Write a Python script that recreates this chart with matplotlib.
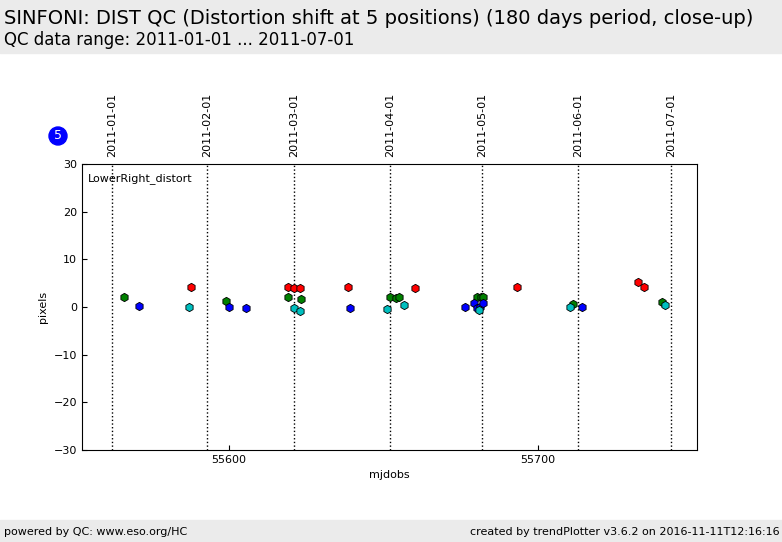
import matplotlib
matplotlib.use("Agg")
import matplotlib.pyplot as plt
from matplotlib.patches import Rectangle

red_x = [55587.7, 55619.1, 55621.0, 55623.0, 55638.5, 55660.2, 55693.2, 55732.4, 55734.3]
red_y = [4.2, 4.2, 4.0, 4.0, 4.2, 4.0, 4.2, 5.2, 4.2]
green_x = [55566.0, 55599.0, 55619.1, 55623.3, 55652.1, 55654.0, 55655.0, 55680.3, 55681.6, 55682.2, 55711.3, 55740.1]
green_y = [2.2, 1.2, 2.0, 1.6, 2.2, 1.8, 2.0, 2.2, 2.0, 2.2, 0.7, 1.1]
blue_x = [55570.9, 55600.0, 55605.5, 55639.2, 55676.4, 55679.3, 55680.3, 55681.2, 55682.2, 55714.2]
blue_y = [0.2, -0.1, -0.3, -0.3, 0.1, 0.9, -0.3, 0.0, 0.9, -0.1]
cyan_x = [55587.1, 55621.0, 55623.0, 55651.1, 55656.6, 55680.9, 55710.4, 55741.1]
cyan_y = [0.1, -0.2, -0.9, -0.5, 0.4, -0.7, -0.1, 0.4]
month_mjd = [55562, 55593, 55621, 55652, 55682, 55713, 55743]
month_lbl = ["2011-01-01", "2011-02-01", "2011-03-01", "2011-04-01", "2011-05-01", "2011-06-01", "2011-07-01"]

fig = plt.figure(figsize=(7.82, 5.42), dpi=100, facecolor="white")
fig.patches.append(Rectangle((0, 489/542), 1, 53/542, transform=fig.transFigure, color="#ebebeb", zorder=0))
fig.patches.append(Rectangle((0, 0), 1, 22/542, transform=fig.transFigure, color="#ebebeb", zorder=0))
fig.text(0.005, 1 - 18/542, "SINFONI: DIST QC (Distortion shift at 5 positions) (180 days period, close-up)", fontsize=14, va="center")
fig.text(0.005, 1 - 40/542, "QC data range: 2011-01-01 ... 2011-07-01", fontsize=12, va="center")
fig.text(0.005, 10/542, "powered by QC: www.eso.org/HC", fontsize=8, va="center")
fig.text(0.997, 10/542, "created by trendPlotter v3.6.2 on 2016-11-11T12:16:16", fontsize=8, va="center", ha="right")
fig.text(58/782, 1 - 136/542, "5", fontsize=9, color="white", ha="center", va="center",
         bbox=dict(boxstyle="circle,pad=0.2", fc="blue", ec="blue"))

ax = fig.add_axes([82/782, 92/542, 615/782, 286/542])
for x in month_mjd:
    ax.axvline(x, color="black", linestyle=":", linewidth=1)
for xs, ys, c in [(red_x, red_y, "red"), (green_x, green_y, "green"), (blue_x, blue_y, "blue"), (cyan_x, cyan_y, "c")]:
    ax.plot(xs, ys, "h", color=c, mec="black", mew=0.6, ms=6, linestyle="none")
ax.set_xlim(55552.4, 55751.5)
ax.set_ylim(-30, 30)
ax.set_xticks([55600, 55700])
ax.set_xticklabels(["55600", "55700"])
ax.set_yticks(range(-30, 31, 10))
ax.tick_params(labelsize=8, direction="in")
ax.set_xlabel("mjdobs", fontsize=8)
ax.set_ylabel("pixels", fontsize=8)
ax.text(0.01, 0.94, "LowerRight_distort", transform=ax.transAxes, fontsize=8)
for x, l in zip(month_mjd, month_lbl):
    ax.text(x, 31.5, l, rotation=90, ha="center", va="bottom", fontsize=8)

fig.savefig("out.png", dpi=100, facecolor="white")
